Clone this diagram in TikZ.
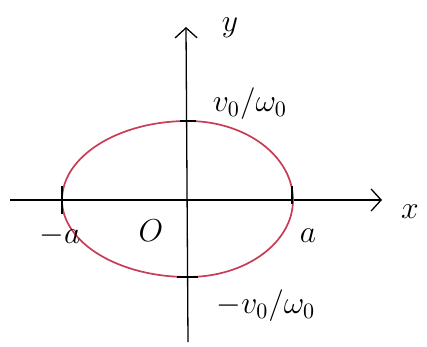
\documentclass[tikz,border=0pt]{standalone}
\usepackage{graphicx}
\usetikzlibrary{arrows.meta}
\definecolor{curvered}{RGB}{200,60,85}
\newcommand{\biglbl}[1]{\scalebox{2.2}{\Large$#1$}}
\begin{document}
\begin{tikzpicture}[x=1pt,y=-1pt,
  axis/.style={line width=1.3pt,-{Straight Barb[length=10pt,width=22pt,line width=1.3pt]}},
  tick/.style={line width=2pt},
  orbit/.style={curvered,line width=1.7pt},
  lab/.style={inner sep=0pt}]
\useasboundingbox (0,0) rectangle (427,346);
\coordinate (xl) at (10,200);
\coordinate (xr) at (382,200);
\coordinate (yb) at (188,342);
\coordinate (yt) at (186,27);
\draw[axis] (xl) -- (xr);
\draw[axis] (yb) -- (yt);
\draw[orbit] (293,200) arc[start angle=0,end angle=-90,x radius=105,y radius=79]
  arc[start angle=-90,end angle=-180,x radius=126,y radius=79]
  arc[start angle=180,end angle=90,x radius=126,y radius=77]
  arc[start angle=90,end angle=0,x radius=105,y radius=77];
\draw[tick] (62,186) -- (62,214);
\draw[tick] (292,186) -- (292,204);
\draw[tick] (180,121) -- (196,121);
\draw[tick] (177,277) -- (198,277);
\node[lab] (ylab) at (230,28) {\biglbl{y}};
\node[lab] (xlab) at (410,212) {\biglbl{x}};
\node[lab] (vtop) at (250,104) {\biglbl{v_0/\omega_0}};
\node[lab] (vbot) at (266,306) {\biglbl{-v_0/\omega_0}};
\node[lab] (ma) at (60,236) {\biglbl{-a}};
\node[lab] (o) at (151,231) {\biglbl{O}};
\node[lab] (pa) at (308,236) {\biglbl{a}};
\end{tikzpicture}
\end{document}
